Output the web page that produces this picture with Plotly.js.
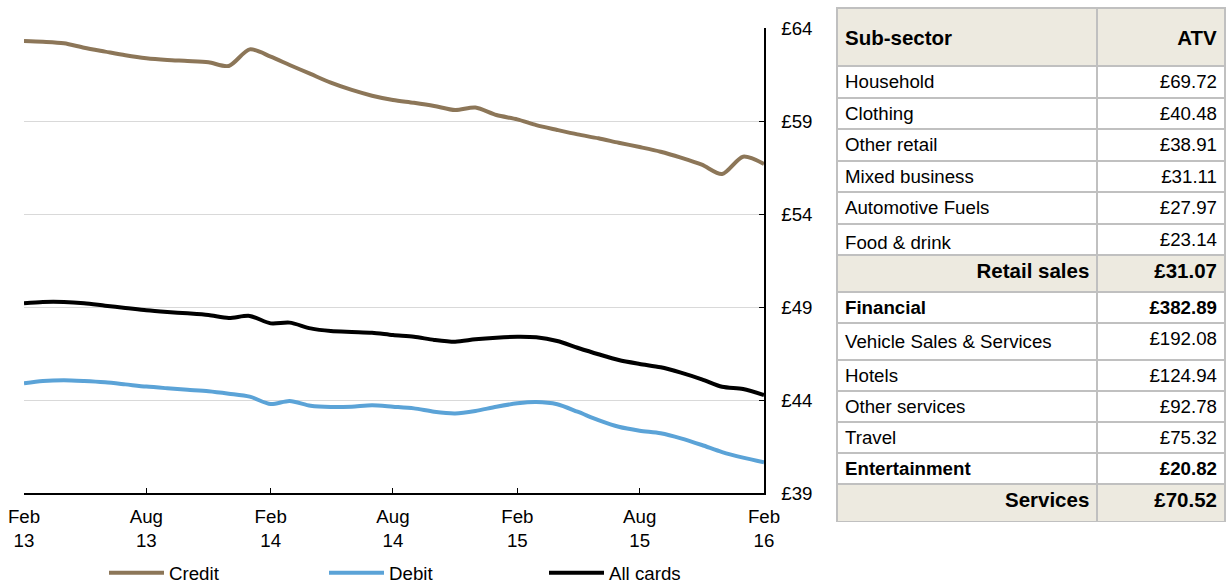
<!DOCTYPE html>
<html>
<head>
<meta charset="utf-8">
<script src="https://cdn.plot.ly/plotly-3.0.1.min.js"></script>
<style>
html,body{margin:0;padding:0;background:#fff;}
#chart{width:1226px;height:583px;}
</style>
</head>
<body>
<div id="chart"></div>
<script>
// ---- Data ----
var months = [
 '2013-02-01','2013-03-01','2013-04-01','2013-05-01','2013-06-01','2013-07-01','2013-08-01','2013-09-01','2013-10-01','2013-11-01','2013-12-01','2014-01-01',
 '2014-02-01','2014-03-01','2014-04-01','2014-05-01','2014-06-01','2014-07-01','2014-08-01','2014-09-01','2014-10-01','2014-11-01','2014-12-01','2015-01-01',
 '2015-02-01','2015-03-01','2015-04-01','2015-05-01','2015-06-01','2015-07-01','2015-08-01','2015-09-01','2015-10-01','2015-11-01','2015-12-01','2016-01-01',
 '2016-02-01'];

var credit = [63.30,63.26,63.18,62.94,62.73,62.53,62.37,62.28,62.23,62.16,61.96,62.85,
              62.46,62.01,61.53,61.06,60.67,60.36,60.13,59.98,59.81,59.59,59.72,59.32,
              59.09,58.78,58.52,58.28,58.07,57.83,57.60,57.35,57.03,56.65,56.15,57.08,
              56.69];

var debit = [44.90,45.02,45.06,45.02,44.95,44.84,44.72,44.63,44.55,44.47,44.34,44.18,
             43.78,43.95,43.69,43.62,43.64,43.72,43.64,43.55,43.37,43.28,43.41,43.64,
             43.82,43.89,43.77,43.37,42.92,42.56,42.35,42.21,41.94,41.58,41.20,40.90,
             40.65];

var allCards = [49.20,49.27,49.27,49.20,49.07,48.95,48.82,48.73,48.66,48.57,48.41,48.52,
                48.12,48.16,47.85,47.71,47.66,47.62,47.49,47.40,47.23,47.13,47.26,47.35,
                47.40,47.37,47.17,46.81,46.46,46.15,45.94,45.76,45.47,45.11,44.71,44.59,
                44.27];

var xTickVals = ['2013-02-01','2013-08-01','2014-02-01','2014-08-01','2015-02-01','2015-08-01','2016-02-01'];
var xTickText = ['Feb<br>13','Aug<br>13','Feb<br>14','Aug<br>14','Feb<br>15','Aug<br>15','Feb<br>16'];
var yTickVals = [39,44,49,54,59,64];
var yTickText = ['£39','£44','£49','£54','£59','£64'];

// Table data
var headerLabels = ['Sub-sector','ATV'];
var retailNames = ['Household','Clothing','Other retail','Mixed business','Automotive Fuels','Food & drink'];
var retailATV   = ['£69.72','£40.48','£38.91','£31.11','£27.97','£23.14'];
var retailTotal = ['Retail sales','£31.07'];
var serviceNames = ['Financial','Vehicle Sales & Services','Hotels','Other services','Travel','Entertainment'];
var serviceATV   = ['£382.89','£192.08','£124.94','£92.78','£75.32','£20.82'];
var serviceBold  = [true,false,false,false,false,true];
var servicesTotal = ['Services','£70.52'];

// ---- Styles ----
var FONT = 'Arial, "Liberation Sans", sans-serif';
var FS = 18.7;
var HFS = 20.5;
var BEIGE = '#EDEAE0';
var BORDER = '#C0C0C0';
var W = 1226, H = 583;
var padT = 8, padB = 61;
var plotH = H - padT - padB;   // 514
function py(y){ return (H - padB - y) / plotH; }

// a small blank first line pushes the label towards the middle of the tall header
function tallHeader(s){ return '\u00a0<br><span style="font-size:' + HFS + 'px"><b>' + s + '</b></span>'; }

var serviceWeights = serviceBold.map(function(b){ return b ? 'bold' : 'normal'; });

var traces = [
  {x: months, y: credit, name: 'Credit', type: 'scatter', mode: 'lines',
   line: {color: '#8C7658', width: 4, shape: 'spline', smoothing: 0.8}, hoverinfo: 'skip'},
  {x: months, y: debit, name: 'Debit', type: 'scatter', mode: 'lines',
   line: {color: '#5BA3D7', width: 4, shape: 'spline', smoothing: 0.8}, hoverinfo: 'skip'},
  {x: months, y: allCards, name: 'All cards', type: 'scatter', mode: 'lines',
   line: {color: '#000000', width: 4, shape: 'spline', smoothing: 0.8}, hoverinfo: 'skip'}
];

var colW = [261, 128];
var tx = [837 / W, 1];

// Table A: header + retail rows
traces.push({
  type: 'table',
  domain: {x: tx, y: [0, py(8)]},
  columnwidth: colW,
  header: {
    values: headerLabels.map(tallHeader),
    align: ['left','right'],
    height: 58,
    fill: {color: BEIGE},
    line: {color: BORDER, width: 2},
    font: {family: FONT, size: 13, color: '#000'}
  },
  cells: {
    values: [retailNames, retailATV],
    align: ['left','right'],
    height: 31.5,
    fill: {color: '#ffffff'},
    line: {color: BORDER, width: 2},
    font: {family: FONT, size: FS, color: '#000'}
  },
  showlegend: false
});

// Table B: Retail sales total + services rows
traces.push({
  type: 'table',
  domain: {x: tx, y: [0, py(255)]},
  columnwidth: colW,
  header: {
    values: retailTotal,
    align: ['right','right'],
    height: 37,
    fill: {color: BEIGE},
    line: {color: BORDER, width: 2},
    font: {family: FONT, size: HFS, color: '#000', weight: 'bold'}
  },
  cells: {
    values: [serviceNames, serviceATV],
    align: ['left','right'],
    height: 31,
    fill: {color: '#ffffff'},
    line: {color: BORDER, width: 2},
    font: {family: FONT, size: FS, color: '#000', weight: [serviceWeights, serviceWeights]}
  },
  showlegend: false
});

// Table C: Services total
traces.push({
  type: 'table',
  domain: {x: tx, y: [0, py(484)]},
  columnwidth: colW,
  header: {
    values: servicesTotal,
    align: ['right','right'],
    height: 38,
    fill: {color: BEIGE},
    line: {color: BORDER, width: 2},
    font: {family: FONT, size: HFS, color: '#000', weight: 'bold'}
  },
  cells: {
    values: [[],[]],
    line: {color: BORDER, width: 2}
  },
  showlegend: false
});

var layout = {
  width: W, height: H,
  margin: {l: 0, r: 0, t: padT, b: padB, autoexpand: false},
  paper_bgcolor: '#ffffff',
  plot_bgcolor: '#ffffff',
  font: {family: FONT, size: FS, color: '#000'},
  showlegend: true,
  hovermode: false,
  xaxis: {
    type: 'date',
    domain: [24 / W, 764 / W],
    range: ['2013-02-01', '2016-02-01'],
    tickmode: 'array',
    tickvals: xTickVals,
    ticktext: xTickText,
    showgrid: false,
    zeroline: false,
    showline: true, linecolor: '#000', linewidth: 1.5,
    ticks: 'inside', ticklen: 5, tickcolor: '#000', tickwidth: 1,
    ticklabelstandoff: 6,
    tickfont: {family: FONT, size: FS, color: '#000'},
    fixedrange: true
  },
  yaxis: {
    side: 'right',
    domain: [py(493), py(28)],
    range: [39, 64],
    tickmode: 'array',
    tickvals: yTickVals,
    ticktext: yTickText,
    showgrid: true, gridcolor: '#D9D9D9', gridwidth: 1,
    zeroline: false,
    showline: true, linecolor: '#000', linewidth: 1.5,
    ticks: 'inside', ticklen: 5, tickcolor: '#000', tickwidth: 1,
    ticklabelstandoff: 12,
    tickfont: {family: FONT, size: FS, color: '#000'},
    fixedrange: true
  },
  legend: {
    orientation: 'h',
    x: 104 / W, xanchor: 'left',
    y: -51 / plotH, yanchor: 'middle',
    font: {family: FONT, size: FS, color: '#000'},
    itemwidth: 55,
    entrywidth: 150, entrywidthmode: 'pixels',
    bgcolor: 'rgba(0,0,0,0)'
  }
};

Plotly.newPlot('chart', traces, layout, {displayModeBar: false, staticPlot: true});
</script>
</body>
</html>
